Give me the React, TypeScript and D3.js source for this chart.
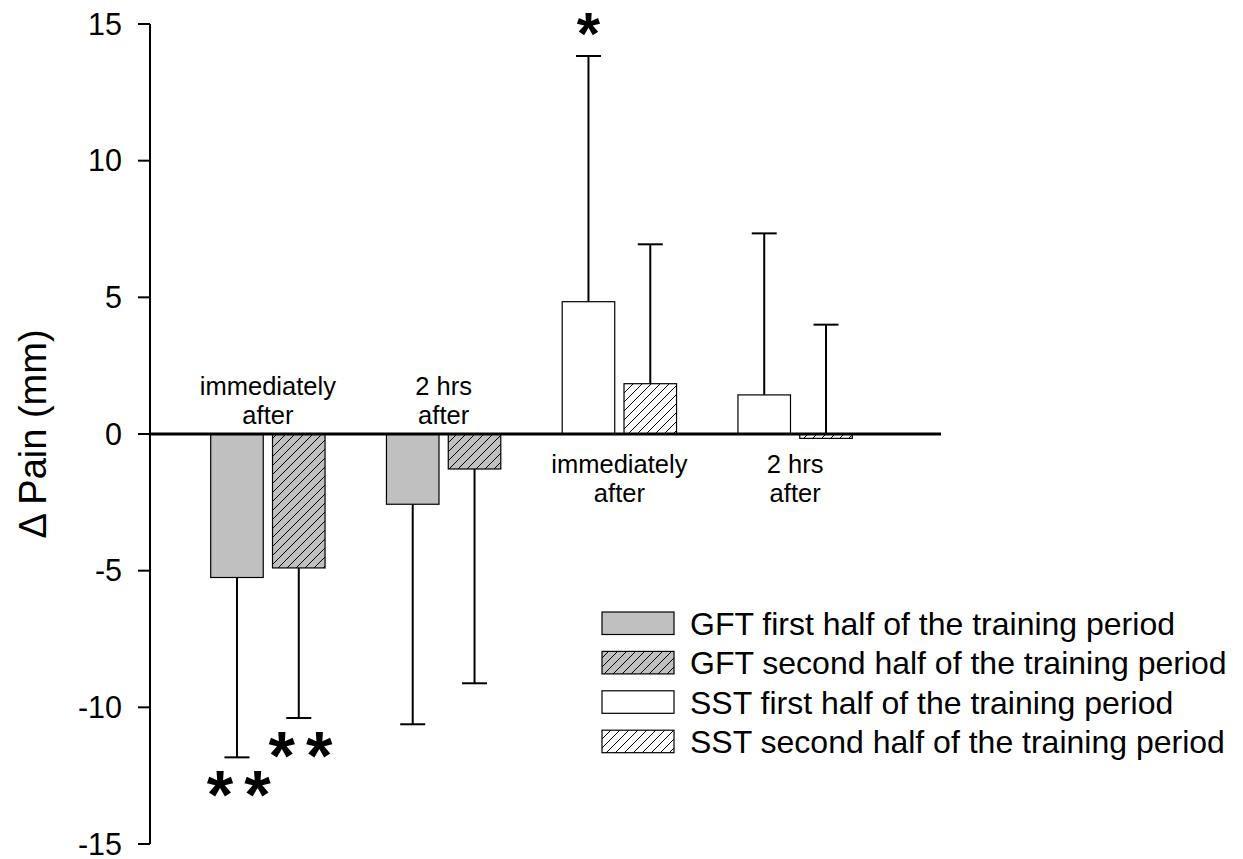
import React from "react";
import * as d3 from "d3";

const groups = ["GFT immediately", "GFT 2 hrs", "SST immediately", "SST 2 hrs"];
const groupLabels = [["immediately", "after"], ["2 hrs", "after"], ["immediately", "after"], ["2 hrs", "after"]];
const firstHalf = [-5.25, -2.57, 4.84, 1.43];
const secondHalf = [-4.9, -1.28, 1.84, -0.16];
const firstErr = [-11.83, -10.62, 13.83, 7.34];
const secondErr = [-10.39, -9.12, 6.94, 4.0];
const yTicks = [-15, -10, -5, 0, 5, 10, 15];
const legendLabels = [
  "GFT first half of the training period",
  "GFT second half of the training period",
  "SST first half of the training period",
  "SST second half of the training period",
];
const significance = [
  { group: 0, series: 0, count: 2 },
  { group: 0, series: 1, count: 2 },
  { group: 2, series: 0, count: 1 },
];

const FONT = "'Liberation Sans', Arial, sans-serif";

export default function App() {
  const W = 1243, H = 859;
  const y = d3.scaleLinear().domain([-15, 15]).range([844, 24]);
  const x = d3.scaleBand<string>().domain(groups).range([180, 883]);
  const inner = d3.scaleBand<string>().domain(["first", "second"]).range([-61.5, 61.5]).paddingInner(0.15).paddingOuter(0.07);
  const bw = inner.bandwidth();
  const axisX = 150;

  const fills = ["#c0c0c0", "url(#hatchGray)", "#ffffff", "url(#hatchWhite)"];
  const styleOf = (g: number, s: number) => (g < 2 ? s : 2 + s);

  const bars: any[] = [];
  groups.forEach((g, gi) => {
    [firstHalf, secondHalf].forEach((arr, si) => {
      const v = arr[gi];
      const e = (si === 0 ? firstErr : secondErr)[gi];
      const x0 = (x(g) as number) + x.bandwidth() / 2 + (inner(si === 0 ? "first" : "second") as number);
      bars.push({ gi, si, v, e, x0 });
    });
  });

  return (
    <svg width={W} height={H} style={{ position: "absolute", left: 0, top: 0, background: "#fff" }}>
      <defs>
        <pattern id="hatchGray" patternUnits="userSpaceOnUse" width="9" height="9">
          <rect width="9" height="9" fill="#c0c0c0" />
          <path d="M-2,2 L2,-2 M0,9 L9,0 M7,11 L11,7" stroke="#000" strokeWidth="1" />
        </pattern>
        <pattern id="hatchWhite" patternUnits="userSpaceOnUse" width="9" height="9">
          <rect width="9" height="9" fill="#fff" />
          <path d="M-2,2 L2,-2 M0,9 L9,0 M7,11 L11,7" stroke="#000" strokeWidth="1" />
        </pattern>
      </defs>

      {/* error bars */}
      {bars.map((b, i) => {
        const cx = b.x0 + bw / 2;
        return (
          <g key={"e" + i} stroke="#000" strokeWidth={2}>
            <line x1={cx} x2={cx} y1={y(b.v)} y2={y(b.e)} />
            <line x1={cx - 12.5} x2={cx + 12.5} y1={y(b.e)} y2={y(b.e)} />
          </g>
        );
      })}

      {/* bars */}
      {bars.map((b, i) => (
        <rect
          key={"b" + i}
          x={b.x0}
          width={bw}
          y={Math.min(y(0), y(b.v))}
          height={Math.abs(y(b.v) - y(0))}
          fill={fills[styleOf(b.gi, b.si)]}
          stroke="#000"
          strokeWidth={1.2}
        />
      ))}

      {/* zero line */}
      <line x1={axisX} x2={941} y1={y(0)} y2={y(0)} stroke="#000" strokeWidth={3} />

      {/* y axis */}
      <line x1={axisX} x2={axisX} y1={y(15)} y2={y(-15)} stroke="#000" strokeWidth={2} />
      {yTicks.map((t) => (
        <g key={t}>
          <line x1={axisX - 12} x2={axisX} y1={y(t)} y2={y(t)} stroke="#000" strokeWidth={2} />
          <text x={122} y={y(t) + 10.5} textAnchor="end" fontFamily={FONT} fontSize={30.5} fill="#000">
            {t}
          </text>
        </g>
      ))}
      <text
        transform={`translate(46, ${y(0)}) rotate(-90)`}
        textAnchor="middle"
        fontFamily={FONT}
        fontSize={38}
        fill="#000"
      >
        Δ Pain (mm)
      </text>

      {/* category labels */}
      {groups.map((g, gi) => {
        const cx = (x(g) as number) + x.bandwidth() / 2;
        const above = gi < 2;
        const y1 = above ? 395 : 473;
        return (
          <text key={"c" + gi} textAnchor="middle" fontFamily={FONT} fontSize={25.5} fill="#000">
            <tspan x={cx} y={y1}>{groupLabels[gi][0]}</tspan>
            <tspan x={cx} y={y1 + 28.5}>{groupLabels[gi][1]}</tspan>
          </text>
        );
      })}

      {/* significance */}
      {significance.map((s, i) => {
        const b = bars.find((bb) => bb.gi === s.group && bb.si === s.series);
        const cx = b.x0 + bw / 2;
        const yy = b.e < 0 ? y(b.e) + 61 : y(b.e) - 2;
        const offs = s.count === 2 ? [-17, 20.5] : [0];
        return (
          <g key={"s" + i}>
            {offs.map((o, k) => (
              <text key={k} x={cx + o} y={yy} textAnchor="middle" fontFamily={FONT} fontWeight="bold" fontSize={s.count === 2 ? 68 : 60} fill="#000">
                *
              </text>
            ))}
          </g>
        );
      })}

      {/* legend */}
      {legendLabels.map((l, i) => {
        const top = 612 + i * 39.4;
        return (
          <g key={"l" + i}>
            <rect x={602} y={top} width={72} height={22.5} fill={fills[i]} stroke="#000" strokeWidth={1.2} />
            <text x={690} y={top + 23} fontFamily={FONT} fontSize={32} fill="#000">
              {l}
            </text>
          </g>
        );
      })}
    </svg>
  );
}
